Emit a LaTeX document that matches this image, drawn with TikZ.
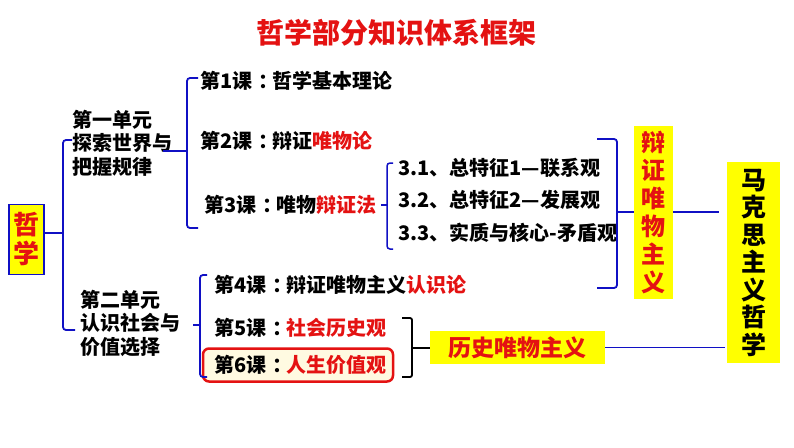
\documentclass[tikz,border=0pt]{standalone}
\usepackage{fontspec}
\setmainfont{Noto Sans CJK SC}[UprightFont=* Black]
\definecolor{tred}{RGB}{228,18,18}
\definecolor{lblue}{RGB}{16,16,196}
\definecolor{byel}{RGB}{255,255,0}
\definecolor{cream}{RGB}{255,250,225}
\newcommand\mycolon{\hspace{0.3em}：\hspace{-0.3em}}
\begin{document}
\begin{tikzpicture}[x=1pt,y=-1pt]
\useasboundingbox[fill=white] (0,0) rectangle (794,447);
\tikzset{
 txt/.style={anchor=west,inner sep=0pt,font=\fontsize{20}{23.5}\selectfont},
 ybox/.style={fill=byel,inner sep=0pt},
 bl/.style={draw=lblue,line width=1.8pt,rounded corners=3pt},
 blk/.style={draw=black,line width=1.8pt,rounded corners=2pt},
}
% title
\node[font=\fontsize{28}{30}\selectfont,text=tred,inner sep=0pt] (title) at (396,33) {哲学部分知识体系框架};

% boxes
\node[ybox,draw=lblue,line width=1.6pt,minimum width=35pt,minimum height=70pt,text=tred,align=center,font=\fontsize{26}{29}\selectfont] (zhe) at (26.5,239.5) {哲\\学};
\node[ybox,minimum width=39pt,minimum height=173pt,text=tred,align=center,font=\fontsize{24}{28}\selectfont] (bzw) at (653.5,212.5) {辩\\证\\唯\\物\\主\\义};
\node[ybox,minimum width=53pt,minimum height=201pt,text=black,align=center,font=\fontsize{25}{27.5}\selectfont] (mks) at (753.5,262.5) {马\\克\\思\\主\\义\\哲\\学};
\node[ybox,minimum width=175pt,minimum height=33pt,text=tred,font=\fontsize{23}{25}\selectfont] (ls) at (517.5,347.5) {历史唯物主义};

% highlight box for lesson 6
\node[draw=tred,line width=2.5pt,rounded corners=6pt,fill=cream,minimum width=190pt,minimum height=33pt] (hl) at (298,365) {};

% units
\node[txt,align=left] (u1) at (72,143) {第一单元\\探索世界与\\把握规律};
\node[txt,align=left] (u2) at (80,323) {第二单元\\认识社会与\\价值选择};

% lessons
\node[txt] (l1) at (200,81) {第1课\mycolon 哲学基本理论};
\node[txt] (l2) at (200,141) {第2课\mycolon 辩证\textcolor{tred}{唯物论}};
\node[txt] (l3) at (204,205) {第3课\mycolon 唯物\textcolor{tred}{辩证法}};
\node[txt] (s1) at (398,168) {3.1、总特征1—联系观};
\node[txt] (s2) at (398,200) {3.2、总特征2—发展观};
\node[txt] (s3) at (398,233) {3.3、实质与核心-矛盾观};
\node[txt] (l4) at (214,285) {第4课\mycolon 辩证唯物主义\textcolor{tred}{认识论}};
\node[txt] (l5) at (214,328) {第5课\mycolon \textcolor{tred}{社会历史观}};
\node[txt] (l6) at (214,365) {第6课\mycolon \textcolor{tred}{人生价值观}};

% junction coordinates
\coordinate (j0) at (63,233);
\coordinate (j1a) at (163,151);
\coordinate (j1) at (187,151);
\coordinate (j3a) at (381,205);
\coordinate (j3) at (387,205);
\coordinate (j2a) at (193,325);
\coordinate (j2) at (200,325);
\coordinate (jb) at (617,212);
\coordinate (jl) at (412,348);

% main brace
\draw[bl] (72,140) -- (63,140) -- (63,330) -- (75,330);
\draw[bl] (zhe.east |- j0) -- (j0);
% unit 1 brace
\draw[bl] (198,78) -- (187,78) -- (187,228) -- (198,228);
\draw[bl] (j1a) -- (j1);
% lesson 3 brace
\draw[bl,line width=1.5pt] (393,163) -- (387,163) -- (387,249) -- (393,249);
\draw[bl,line width=1.5pt] (j3a) -- (j3);
% unit 2 brace
\draw[bl] (207,275) -- (200,275) -- (200,377) -- (207,377);
\draw[bl] (j2a) -- (j2);
% dialectical materialism brace
\draw[bl] (597,139) -- (617,139) -- (617,288) -- (597,288);
\draw[bl] (jb) -- (bzw.west |- jb);
% historical materialism bracket
\draw[blk] (402,318) -- (412,318) -- (412,377) -- (402,377);
\draw[blk] (jl) -- (ls.west |- jl);
% to Marxist philosophy
\draw[bl] (bzw.east |- jb) -- ([xshift=-8pt]mks.west |- jb);
\draw[bl] (ls.east) -- ([xshift=-2pt]mks.west |- ls.east);
\end{tikzpicture}
\end{document}
